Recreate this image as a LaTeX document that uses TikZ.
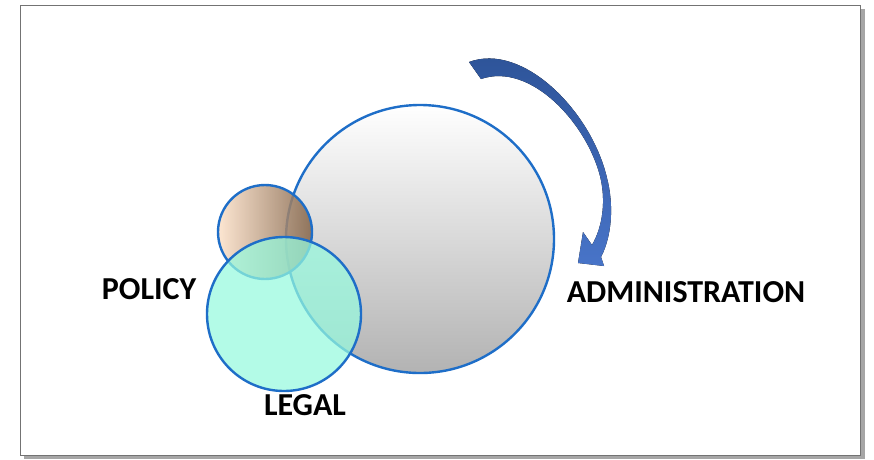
\documentclass[tikz,border=0pt]{standalone}
\usepackage{fontspec}
\setmainfont{Carlito}
\usepackage{tikz}
\usetikzlibrary{positioning}

\definecolor{ringblue}{RGB}{30,110,200}
\definecolor{arrowtop}{RGB}{44,82,150}
\definecolor{arrowbot}{RGB}{72,116,200}
\definecolor{peach}{RGB}{253,226,202}
\definecolor{tan}{RGB}{228,186,150}
\definecolor{bronze}{RGB}{130,98,70}
\definecolor{mint}{RGB}{150,250,222}

\begin{document}
\begin{tikzpicture}[x=1pt,y=-1pt,
        ring/.style={circle, draw=ringblue, line width=2.4pt, inner sep=0pt},
        lbl/.style={font=\bfseries\fontsize{32}{34}\selectfont, inner sep=0pt}]
    \useasboundingbox (0,0) rectangle (874,459);
    % frame with shadow
    \fill[black!35] (24,9) rectangle (865,459);
    \draw[fill=white, draw=black!55, line width=0.8pt] (20,5) rectangle (860,455);

    % circles
    \node[ring, minimum size=268pt, top color=white, bottom color=black!30] (admin) at (420,239) {};
    \node[ring, minimum size=94pt, left color=peach, middle color=tan, right color=bronze, fill opacity=0.85] (policy) at (265,232) {};
    \node[ring, minimum size=154pt, fill=mint, fill opacity=0.72] (legal) at (284,314) {};

    % curved arrow
    \fill[top color=arrowtop, bottom color=arrowbot]
        (469,62) .. controls (522,42) and (591,110) .. (607,178)
        .. controls (614,205) and (612,236) .. (601,257)
        -- (604,266) -- (578,263) -- (583,232) -- (592,245)
        .. controls (603,226) and (606,200) .. (600,176)
        .. controls (586,122) and (530,62) .. (481,79) -- cycle;

    % labels
    \node[lbl] (tpolicy) at (149,289) {POLICY};
    \node[lbl] (tadmin) at (686,292) {ADMINISTRATION};
    \node[lbl] (tlegal) at (305,405) {LEGAL};
\end{tikzpicture}
\end{document}
